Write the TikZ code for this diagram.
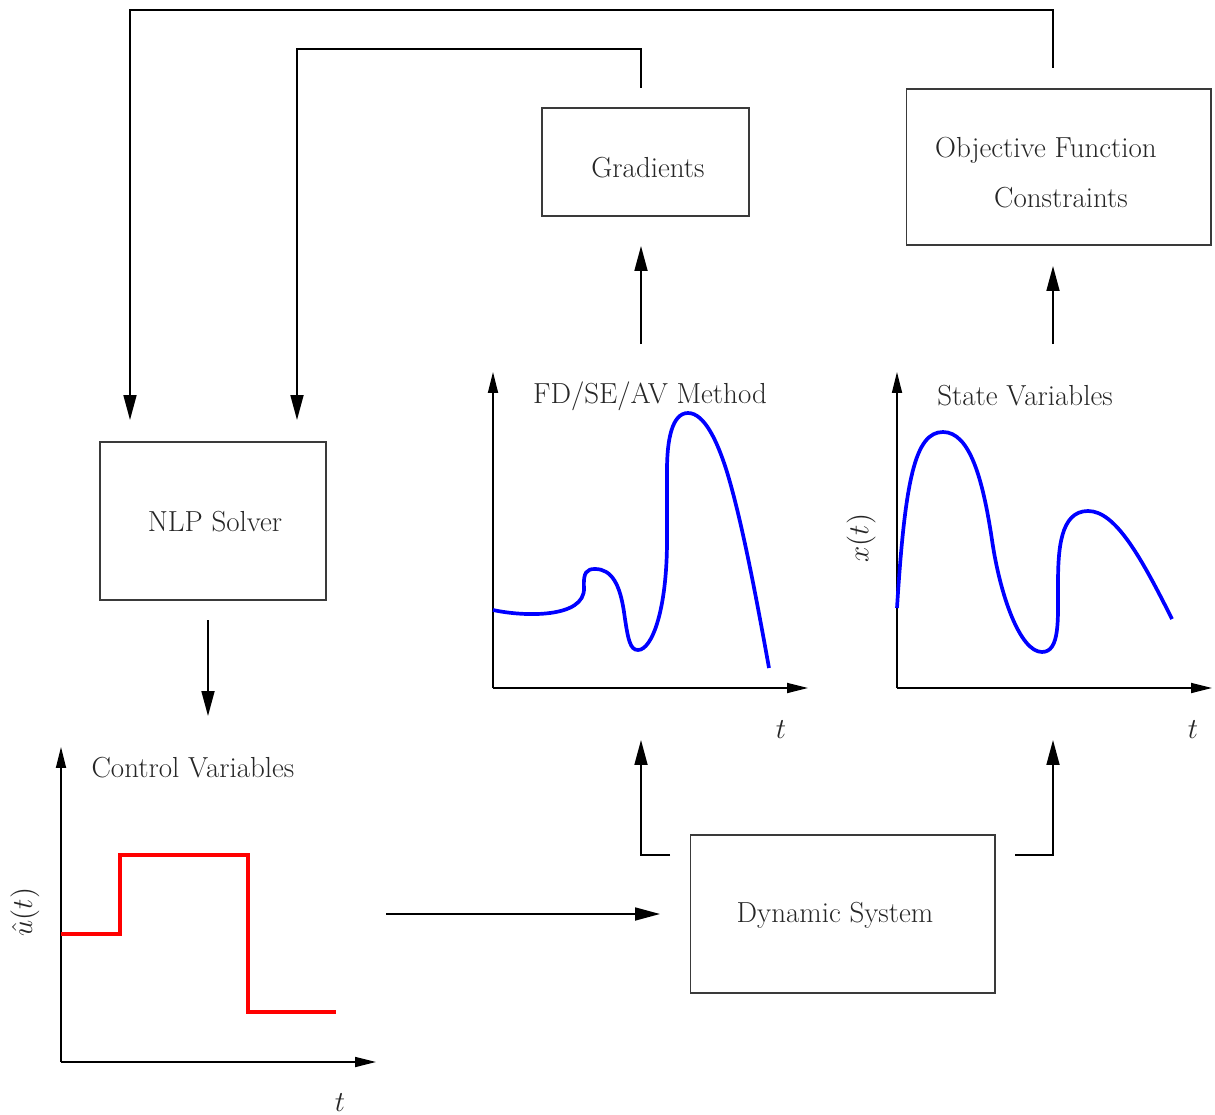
\RequirePackage{fix-cm}
\documentclass[tikz,border=0pt]{standalone}
\usepackage{fontspec}
\usetikzlibrary{arrows.meta}
\definecolor{txt}{HTML}{262626}
\definecolor{boxc}{HTML}{3A3A3A}
\tikzset{
  lbl/.style={text=txt,font=\fontsize{16.5}{20}\selectfont,inner sep=0pt},
  blk/.style={draw=boxc,line width=0.6pt,minimum width=#1,inner sep=0pt},
  conn/.style={line width=1pt,-{Triangle[length=0.5cm,width=0.26cm]}},
  axis/.style={line width=1pt,-{Triangle[length=0.42cm,width=0.2cm]}},
  bluecurve/.style={blue,line width=2.1pt},
  redcurve/.style={red,line width=2.1pt},
}
\begin{document}
\begin{tikzpicture}[x=0.02cm,y=-0.02cm]
\useasboundingbox (0,0) rectangle (1215,1115);
% boxes
\node[blk=4.14cm,minimum height=2.16cm] (grad) at (645.5,162) {};
\node[blk=6.1cm,minimum height=3.12cm] (obj) at (1058.5,167) {};
\node[blk=4.52cm,minimum height=3.16cm] (nlp) at (213,521) {};
\node[blk=6.1cm,minimum height=3.16cm] (dyn) at (842.5,914) {};
% box texts
\node[lbl] (tgrad) at (648,168) {Gradients};
\node[lbl] (tobj1) at (1046,150) {Objective Function};
\node[lbl] (tobj2) at (1061,198) {Constraints};
\node[lbl] (tnlp) at (215,522) {NLP Solver};
\node[lbl] (tdyn) at (835,915) {Dynamic System};
% connector end points
\coordinate (a1) at (1053,68);
\coordinate (a2) at (130,420);
\coordinate (b1) at (641,88);
\coordinate (b2) at (297,420);
\coordinate (c1) at (641,344);
\coordinate (c2) at (641,246);
\coordinate (d1) at (1053,344);
\coordinate (d2) at (1053,266);
\coordinate (e1) at (208,620);
\coordinate (e2) at (208,716);
\coordinate (f1) at (386,914);
\coordinate (f2) at (660,914);
\coordinate (g1) at (670,855);
\coordinate (g2) at (641,740);
\coordinate (h1) at (1015,855);
\coordinate (h2) at (1053,740);
% connectors
\draw[conn] (a1) -- (1053,10) -| (a2);
\draw[conn] (b1) -- (641,49) -| (b2);
\draw[conn] (c1) -- (c2);
\draw[conn] (d1) -- (d2);
\draw[conn] (e1) -- (e2);
\draw[conn] (f1) -- (f2);
\draw[conn] (g1) -| (g2);
\draw[conn] (h1) -| (h2);
% FD plot
\coordinate (fo) at (493,688);
\coordinate (fy) at (493,372);
\coordinate (fx) at (808,688);
\draw[axis] (fo) -- (fy);
\draw[axis] (fo) -- (fx);
\node[lbl] (fdt) at (650,396) {FD/SE/AV Method};
\node[lbl] (fdtt) at (781,730) {$t$};
\draw[bluecurve] (493,610) .. controls (525,617) and (585,618) .. (584,588)
  .. controls (583,572) and (587,569) .. (595,569)
  .. controls (612,569) and (620,585) .. (624,612)
  .. controls (628,640) and (630,650) .. (638,650)
  .. controls (652,650) and (667,610) .. (667,540)
  .. controls (667,500) and (667,480) .. (667,470)
  .. controls (667,440) and (672,413) .. (688,413)
  .. controls (704,413) and (717,440) .. (727,472)
  .. controls (741,518) and (755,590) .. (769,668);
% State plot
\coordinate (so) at (897,688);
\coordinate (sy) at (897,372);
\coordinate (sx) at (1212,688);
\draw[axis] (so) -- (sy);
\draw[axis] (so) -- (sx);
\node[lbl] (stt) at (1025,396) {State Variables};
\node[lbl] (sttt) at (1193,730) {$t$};
\node[lbl,rotate=90] (sxt) at (861,538) {$x(t)$};
\draw[bluecurve] (897,608) .. controls (905,480) and (915,432) .. (943,432)
  .. controls (970,432) and (983,480) .. (992,540)
  .. controls (1000,595) and (1020,652) .. (1042,652)
  .. controls (1060,652) and (1058,620) .. (1058,585)
  .. controls (1058,550) and (1060,511) .. (1088,511)
  .. controls (1115,511) and (1140,555) .. (1172,619);
% Control plot
\coordinate (co) at (61,1062);
\coordinate (cy) at (61,747);
\coordinate (cx) at (376,1062);
\draw[axis] (co) -- (cy);
\draw[axis] (co) -- (cx);
\node[lbl] (ctt) at (193,768) {Control Variables};
\node[lbl] (cttt) at (340,1103) {$t$};
\node[lbl,rotate=90] (cut) at (25,912) {$\hat{u}(t)$};
\draw[redcurve] (61,934) -- (120,934) -- (120,855) -- (248,855) -- (248,1012) -- (336,1012);
\end{tikzpicture}
\end{document}
